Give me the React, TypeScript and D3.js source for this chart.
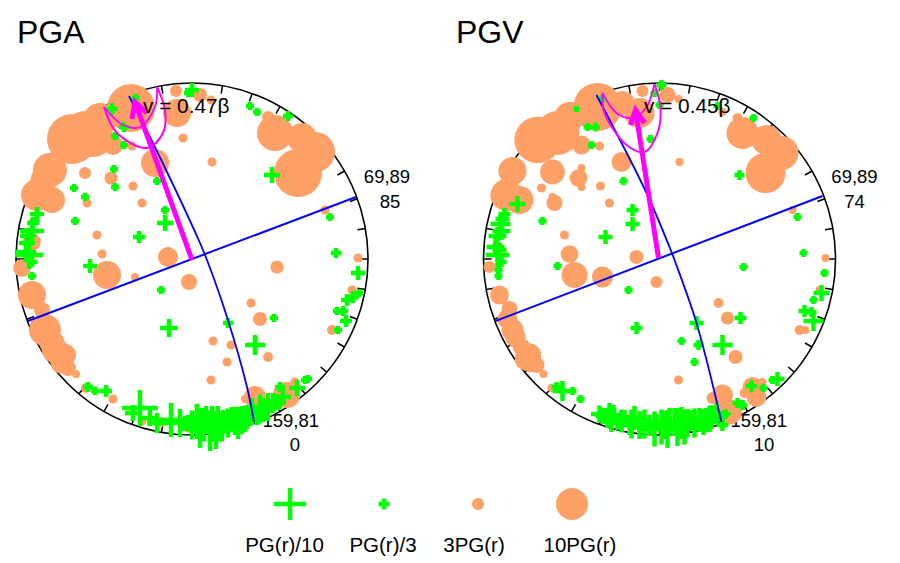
import React from "react";
import * as d3 from "d3";

type P = [number, number];
type M = [number, number, number];

// positions: offset from the net centre (unit = 1/176 of the net radius); third value: amplitude ratio
const pgaDiscs: M[] = [[-61,151,15.6],[-120,120,16.3],[-107,126,14.2],[-99,122,12.8],[-92,139,10.7],[-79,114,5.8],[-142,89,10.7],[-149,76,7.9],[-148,80,8],[-155,64,10],[-140,59,7.9],[-15,146,8.6],[-16,168,3],[-37,96,8.6],[-107,86,3],[-81,81,3.4],[-59,73,2],[-50,56,2],[-105,56,2],[-95,24,2],[-90,5,2],[-24,2,5.8],[-9,121,2],[-60,113,2],[-160,17,5],[83,126,11.4],[76,142,3],[110,121,9.3],[123,107,12.8],[106,86,15.6],[8,164,3.7],[19,159,2],[20,97,2],[133,49,2],[166,1,2],[-170,-9,5],[-160,-36,8.6],[-150,-51,4.4],[-147,-71,10],[-140,-84,7.5],[-137,-91,7.9],[-127,-96,6.5],[-130,-103,7],[-124,-109,4.4],[-116,-115,1.6],[-85,-16,8.6],[-57,-18,1.6],[-3,-23,4.4],[-106,-129,2.3],[-79,-140,2],[-50,-162,2],[-30,-163,2.3],[-3,-169,2.3],[85,-8,3.4],[59,-44,2],[68,-60,3.7],[21,-82,2],[39,-86,2],[76,-98,2.3],[35,-103,2],[19,-121,2],[63,-138,6.5],[53,-140,1.6],[95,-136,7.9],[103,-123,2],[88,-134,3.7],[140,-71,2.3],[160,-31,2]];
const pgaPluses: M[] = [[-80,150,3.3],[-68,132,2.7],[-77,123,2],[-68,114,2],[-78,90,2],[-77,72,2],[-35,78,2],[-118,71,2],[-107,62,2],[-117,38,2],[-27,49,2],[-27,36,4.7],[-53,22,3.3],[-155,45,4],[-159,36,3.3],[-160,28,7.3],[-164,23,4.7],[-165,16,4.7],[-166,7,6],[-163,4,8.7],[-102,-7,4],[-160,-17,2],[-160,-3,2.7],[-31,-31,2],[-23,-69,5.3],[-104,-128,2.7],[-97,-132,2],[-86,-132,3.3],[-52,-149,11.3],[-59,-154,4.7],[-42,-159,4.7],[-35,-164,6],[-21,-161,10.7],[-12,-164,8.7],[-4,-164,4.7],[5,-163,10.7],[58,153,2],[65,147,2],[96,143,2.7],[138,42,2],[144,6,2.7],[80,84,4.7],[0,169,4],[-4,166,2],[36,-64,2.7],[82,-59,2],[63,-86,6],[166,-14,4],[167,-34,2],[155,-41,3.3],[161,-38,3.3],[145,-52,2],[151,-52,2.7],[154,-62,3.3],[146,-71,2],[116,-120,2],[113,-121,2],[105,-129,4.7],[91,-138,4.7],[88,-128,2.7],[5,-159,8.7],[10,-165,10],[14,-161,8.7],[20,-165,11.3],[26,-165,11.3],[31,-161,6],[40,-160,7.3],[43,-162,8.7],[50,-161,8.7],[55,-158,7.3],[60,-154,6],[65,-156,6],[71,-151,7.3],[76,-148,8.7],[81,-144,6],[86,-143,4.7],[-56,161,2],[0,-166,9],[8,-170,12],[12,-168,9],[18,-172,12.7],[24,-171,12],[30,-168,9],[36,-164,9],[46,-164,10],[53,-160,8],[60,-152,8],[68,-150,9]];
const pgvDiscs: M[] = [[-62,152,15.6],[-122,119,15],[-102,126,14.2],[-90,142,9.3],[-78,114,5.4],[-37,156,7.2],[-20,146,9.3],[-17,168,3],[-147,88,8.6],[-107,87,7.5],[-153,64,10],[-140,59,8.6],[-81,81,5],[-78,91,1.6],[-78,72,1.6],[-118,71,2],[-59,73,2],[-38,97,5.8],[-60,113,2],[-50,56,2],[-105,56,4.4],[-107,62,1.6],[-95,24,2],[-90,5,5],[-23,2,3.7],[-162,12,3],[8,164,4.4],[19,160,1.6],[63,147,1.6],[83,126,10],[78,141,2.3],[107,119,9.3],[122,106,10.7],[106,86,12.8],[20,97,1.6],[133,49,1.6],[166,1,1.6],[-170,-8,3],[-160,-36,5.4],[-150,-50,4.4],[-152,-60,5.8],[-147,-71,6.5],[-144,-78,6],[-138,-88,5],[-130,-96,6.9],[-133,-100,7],[-128,-103,6],[-123,-106,4.4],[-116,-115,1.6],[-85,-16,7.9],[-57,-18,6.2],[-3,-23,3],[-108,-129,1.6],[-30,-163,1.6],[59,-44,2.3],[68,-59,3.4],[76,-98,3.7],[19,-121,2],[63,-136,6.2],[53,-139,3],[70,-153,7.5],[93,-128,5.8],[97,-138,5.8],[103,-123,1.6],[85,-134,2.3],[140,-71,2.3],[146,-71,1.6],[160,-31,1.6]];
const pgvPluses: M[] = [[-142,55,4.7],[-117,38,2],[-36,78,2],[-9,120,2],[-27,49,3.3],[-27,35,4],[-54,22,4],[-83,150,1.3],[-72,132,2],[-64,132,2.3],[-68,114,2],[-57,160,2],[2,174,2.7],[-5,166,2],[0,154,2],[-155,45,3.3],[-157,40,4],[-159,35,6],[-158,28,5.3],[-162,23,5.3],[-164,12,5.3],[-160,9,4],[-162,4,7.3],[58,153,2],[94,141,2],[80,84,2.7],[138,42,2],[144,6,2],[-102,-7,2],[-161,-11,2],[-161,-17,2],[-158,-3,2.7],[-31,-31,2],[-23,-69,3.3],[-103,-128,2.7],[-97,-132,6],[-87,-132,2],[-79,-140,2],[-56,-157,4.7],[-50,-151,4],[-52,-161,4.7],[-46,-156,6],[-42,-163,4.7],[-35,-158,4],[-30,-166,6],[-25,-159,7.3],[-20,-166,8.7],[-10,-166,6],[-3,-163,4.7],[5,-166,8.7],[10,-163,8.7],[15,-163,8.7],[22,-164,10],[28,-164,8.7],[32,-161,6],[40,-161,7.3],[47,-161,7.3],[52,-158,7.3],[57,-154,6],[81,-59,3.3],[84,-8,2],[37,-64,4],[22,-82,2],[39,-86,2.7],[63,-86,6],[35,-103,2],[165,-14,2],[162,-34,4.7],[154,-41,2],[145,-52,3.3],[152,-53,2.7],[154,-62,6],[118,-120,4],[113,-121,2],[92,-127,3.3],[104,-129,2],[78,-144,2.7],[83,-146,2.7],[66,-155,2.7],[63,-166,3.3],[-48,-160,8],[-38,-162,7],[-28,-165,9],[-15,-165,9],[-5,-170,11],[2,-168,11],[8,-170,12],[18,-168,12],[25,-168,11],[35,-164,9],[44,-163,8],[50,-160,8],[-60,-155,5]];

const pgaStrike: P[] = [[-164,-62],[164,62]];
const pgaPlane: P[] = [[-63,163],[-44,126],[8,16],[15,-1],[35,-58],[55,-128],[62,-163]];
const pgvStrike: P[] = [[-164,-62],[163,63]];
const pgvPlane: P[] = [[-63,164],[-13,66],[10,12],[15,-1],[37,-64],[62,-163]];

const pgaArrow: P[] = [[0,-1],[-57,157]];
const pgaBarbs: P[] = [[-60,140],[-57,157],[-45,146]];
const pgaOuter: P[] = [[-88,152],[-75,126],[-45,111],[-29,126],[-27,149],[-35,172]];
const pgaInner: P[] = [[-88,152],[-69,134],[-52,132],[-37,152],[-35,172]];
const pgvArrow: P[] = [[-1,1],[-24,149]];
const pgvBarbs: P[] = [[-29,134],[-24,149],[-15,136]];
const pgvOuter: P[] = [[-57,166],[-55,146],[-33,114],[-15,107],[-2,126],[1,152],[-5,175]];
const pgvInner: P[] = [[-57,166],[-43,146],[-27,141],[-13,152],[-5,175]];

const legendLabels = ["PG(r)/10", "PG(r)/3", "3PG(r)", "10PG(r)"];
const tickAngles = d3.range(0, 360, 10);

const ORANGE = "#FFA066";
const GREEN = "#00FF00";
const MAGENTA = "#FF00FF";
const FONT = "'Liberation Sans', Arial, sans-serif";
const CY = 259;
const R = 176;

const discR = d3.scaleLinear().domain([3, 10]).range([6, 16]);
const plusH = d3.scaleLinear().domain([3, 10]).range([5.5, 16]);

function Plus({ x, y, h }: { x: number; y: number; h: number }) {
  return (
    <path
      d={`M${x - h},${y}H${x + h}M${x},${y - h}V${y + h}`}
      stroke={GREEN}
      strokeWidth={4.5}
      fill="none"
    />
  );
}

type PanelProps = {
  cx: number; title: string; titleX: number; v: string; vX: number;
  discs: M[]; pluses: M[]; strike: P[]; plane: P[]; arrow: P[]; barbs: P[]; outer: P[]; inner: P[];
  top1: string; top2: string; topX: number; top2X: number; bot1: string; bot2: string; botEnd: number; bot2X: number;
};

function Panel(p: PanelProps) {
  const x = d3.scaleLinear().domain([-R, R]).range([p.cx - R, p.cx + R]);
  const y = d3.scaleLinear().domain([-R, R]).range([CY + R, CY - R]);
  const lin = d3.line<P>().x((d) => x(d[0])).y((d) => y(d[1]));
  const smooth = d3.line<P>().x((d) => x(d[0])).y((d) => y(d[1])).curve(d3.curveCatmullRom.alpha(0.5));
  const textStyle = { fontFamily: FONT, fontSize: 18.5 };
  return (
    <g>
      <text x={p.titleX} y={43} fontFamily={FONT} fontSize={32}>{p.title}</text>
      <circle cx={p.cx} cy={CY} r={R} fill="none" stroke="#000" strokeWidth={1.6} />
      {tickAngles.map((a) => {
        const t = (a * Math.PI) / 180;
        return (
          <line
            key={a}
            x1={p.cx + R * Math.sin(t)}
            y1={CY - R * Math.cos(t)}
            x2={p.cx + (R - 8) * Math.sin(t)}
            y2={CY - (R - 8) * Math.cos(t)}
            stroke="#000"
            strokeWidth={1.5}
          />
        );
      })}
      <text x={p.topX} y={183} textAnchor="middle" {...textStyle}>{p.top1}</text>
      <text x={p.top2X} y={208} textAnchor="middle" {...textStyle}>{p.top2}</text>
      <text x={p.botEnd} y={427} textAnchor="end" {...textStyle}>{p.bot1}</text>
      <text x={p.bot2X} y={451} textAnchor="middle" {...textStyle}>{p.bot2}</text>
      {p.discs.map((d, i) => (
        <circle key={i} cx={x(d[0])} cy={y(d[1])} r={discR(d[2])} fill={ORANGE} />
      ))}
      {p.pluses.map((d, i) => (
        <Plus key={i} x={x(d[0])} y={y(d[1])} h={plusH(d[2])} />
      ))}
      <path d={lin(p.strike) ?? ""} fill="none" stroke="#0000FF" strokeWidth={2} />
      <path d={smooth(p.plane) ?? ""} fill="none" stroke="#0000FF" strokeWidth={1.8} />
      <path d={smooth(p.outer) ?? ""} fill="none" stroke={MAGENTA} strokeWidth={2} />
      <path d={smooth(p.inner) ?? ""} fill="none" stroke={MAGENTA} strokeWidth={1.8} />
      <path d={lin(p.arrow) ?? ""} fill="none" stroke={MAGENTA} strokeWidth={5} />
      <path d={lin(p.barbs) ?? ""} fill="none" stroke={MAGENTA} strokeWidth={5} />
      <text x={p.vX} y={113} fontFamily={FONT} fontSize={20.8}>{p.v}</text>
    </g>
  );
}

export default function App() {
  const legendX = d3.scalePoint<string>().domain(legendLabels).range([290, 572]);
  const labelCentres = [284.5, 383, 474, 580];
  return (
    <svg width={900} height={563} style={{ position: "absolute", left: 0, top: 0, display: "block", background: "#fff" }}>
      <Panel cx={192} title="PGA" titleX={17} v="v = 0.47β" vX={143}
        discs={pgaDiscs} pluses={pgaPluses} strike={pgaStrike} plane={pgaPlane}
        arrow={pgaArrow} barbs={pgaBarbs} outer={pgaOuter} inner={pgaInner}
        top1="69,89" top2="85" topX={387} top2X={390} bot1="159,81" bot2="0" botEnd={319} bot2X={295} />
      <Panel cx={659.5} title="PGV" titleX={456} v="v = 0.45β" vX={644}
        discs={pgvDiscs} pluses={pgvPluses} strike={pgvStrike} plane={pgvPlane}
        arrow={pgvArrow} barbs={pgvBarbs} outer={pgvOuter} inner={pgvInner}
        top1="69,89" top2="74" topX={854.5} top2X={854.5} bot1="159,81" bot2="10" botEnd={787} bot2X={764} />
      <Plus x={legendX(legendLabels[0])!} y={504} h={plusH(10)} />
      <Plus x={legendX(legendLabels[1])!} y={504} h={plusH(3)} />
      <circle cx={legendX(legendLabels[2])!} cy={504} r={discR(3)} fill={ORANGE} />
      <circle cx={legendX(legendLabels[3])!} cy={504} r={discR(10)} fill={ORANGE} />
      {legendLabels.map((l, i) => (
        <text key={l} x={labelCentres[i]} y={552} textAnchor="middle" fontFamily={FONT} fontSize={20.5}>{l}</text>
      ))}
    </svg>
  );
}
